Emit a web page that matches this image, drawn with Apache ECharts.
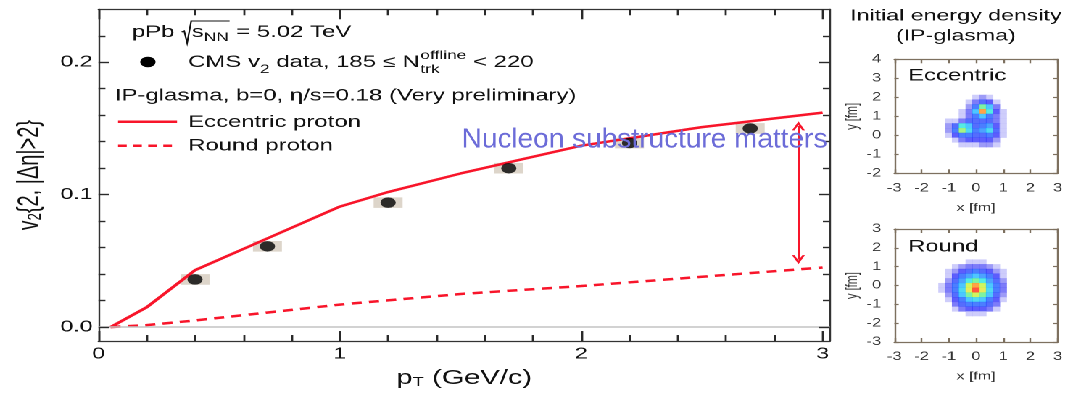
<!DOCTYPE html>
<html>
<head>
<meta charset="utf-8">
<script src="https://cdn.jsdelivr.net/npm/echarts@6/dist/echarts.min.js"></script>
<style>
  html, body { margin: 0; padding: 0; background: #fff; overflow: hidden; }
  /* the source figure is stretched horizontally, so draw narrow and stretch */
  #chart { width: 738px; height: 394px; transform: scaleX(1.45); transform-origin: 0 0; }
</style>
</head>
<body>
<div id="chart"></div>
<script>
// CMS v2 data points and systematic boxes
const cmsPt = [0.4, 0.7, 1.2, 1.7, 2.2, 2.7];
const cmsV2 = [0.036, 0.061, 0.094, 0.120, 0.139, 0.150];
const cmsSys = [0.004, 0.004, 0.004, 0.004, 0.004, 0.004];
const cmsPtHalfWidth = 0.06;

// IP-glasma curves
const eccPt = [0.05, 0.2, 0.4, 0.7, 1.0, 1.2, 1.5, 2.0, 2.5, 3.0];
const eccV2 = [0, 0.015, 0.043, 0.067, 0.091, 0.102, 0.116, 0.137, 0.151, 0.162];
const roundPt = [0.05, 0.2, 0.4, 0.6, 0.8, 1.0, 1.5, 2.0, 2.5, 3.0];
const roundV2 = [0, 0.0015, 0.005, 0.009, 0.013, 0.017, 0.025, 0.031, 0.038, 0.045];

// arrow between the two curves
const gapPt = 2.9;
const gapTop = 0.152;
const gapBottom = 0.051;

// tick positions
const xMajor = [0, 1, 2, 3];
const xMinor = [0.2, 0.4, 0.6, 0.8, 1.2, 1.4, 1.6, 1.8, 2.2, 2.4, 2.6, 2.8];
const yMajor = [0, 0.1, 0.2];
const yMinor = [0.02, 0.04, 0.06, 0.08, 0.12, 0.14, 0.16, 0.18, 0.22];
const heatXTicks = [-3, -2, -1, 0, 1, 2, 3];
const eccYTicks = [-2, -1, 0, 1, 2, 3, 4];
const roundYTicks = [-3, -2, -1, 0, 1, 2, 3];

// initial energy density, eccentric proton (fm grid, 0..10 scale)
const eccX = [-1.25, -1, -0.75, -0.5, -0.25, 0, 0.25, 0.5, 0.75, 1, 1.25];
const eccY = [2, 1.75, 1.5, 1.25, 1, 0.75, 0.5, 0.25, 0, -0.25, -0.5];
const eccDensity = [
  [0, 0, 0, 0, 0, 0.5, 1, 0.5, 0, 0, 0],
  [0, 0, 0, 0, 0.5, 1.5, 2.5, 2, 0.5, 0, 0],
  [0, 0, 0, 0, 1, 3, 6, 4, 1.5, 0, 0],
  [0, 0, 0, 0.5, 1.5, 4, 9, 5, 2, 0.5, 0],
  [0, 0, 0, 0.5, 1.5, 3, 4, 3, 1.5, 0.5, 0],
  [0, 0.5, 0.5, 1.5, 2.5, 2.5, 2.5, 2.5, 1.5, 0.5, 0],
  [0, 1, 2.5, 5, 4, 2.5, 3, 3.5, 2, 0.5, 0],
  [0, 1, 3, 6.5, 4.5, 3, 3.5, 4.5, 2.5, 0.5, 0],
  [0, 0.5, 2, 3, 3, 2.5, 2.5, 3, 2, 0.5, 0],
  [0, 0, 0.5, 1.5, 2, 2, 2, 2, 1, 0, 0],
  [0, 0, 0, 0.5, 0.5, 0.5, 1, 1, 0.5, 0, 0]
];

// initial energy density, round proton
const roundX = [-1.25, -1, -0.75, -0.5, -0.25, 0, 0.25, 0.5, 0.75, 1];
const roundY = [1.25, 1, 0.75, 0.5, 0.25, 0, -0.25, -0.5, -0.75, -1, -1.25, -1.5];
const roundDensity = [
  [0, 0, 0, 0, 0.5, 0.5, 0.5, 0, 0, 0],
  [0, 0, 0.5, 1, 1.5, 1.5, 1.5, 1, 0.5, 0],
  [0, 0.5, 1, 2, 2.5, 3, 2.5, 2, 1, 0.5],
  [0, 0.5, 2, 3, 3.5, 4, 3.5, 3, 2, 0.5],
  [0, 1, 2.5, 3.5, 5, 6, 5, 3.5, 2.5, 1],
  [0.5, 1.5, 3, 4, 7, 9, 7, 4, 3, 1.5],
  [0.5, 1.5, 3, 4.5, 7.5, 10, 7.5, 4.5, 3, 1.5],
  [0, 1, 2.5, 4, 6, 7, 6, 4, 2.5, 1],
  [0, 0.5, 2, 3, 4, 4.5, 4, 3, 2, 0.5],
  [0, 0, 1.5, 2.5, 3, 3, 3, 2.5, 1.5, 0],
  [0, 0, 0.5, 1.5, 2, 2, 2, 1.5, 0.5, 0],
  [0, 0, 0, 0, 0.5, 0.5, 0.5, 0, 0, 0]
];

const STRETCH = 1.45;
const FONT = '"Liberation Sans", Arial, Helvetica, sans-serif';
const RED = '#f8152a';
const measure = document.createElement('canvas').getContext('2d');

function textWidth(t, size) {
  measure.font = size + 'px ' + FONT;
  return measure.measureText(t).width;
}

// text element placed by its baseline
function txt(x, baseline, t, size, extra) {
  return Object.assign({
    type: 'text', x: x, y: baseline - 0.35 * size, silent: true, z: 50,
    style: {
      text: t, font: size + 'px ' + FONT, fill: '#111',
      textAlign: 'left', textVerticalAlign: 'middle', align: 'left', verticalAlign: 'middle'
    }
  }, extra || {});
}

function runs(x, baseline, parts, els) {
  let cx = x;
  parts.forEach(p => {
    els.push(txt(cx, baseline + (p.dy || 0), p.t, p.size));
    cx += textWidth(p.t, p.size);
  });
  return cx;
}

function gridCells(xs, ys, values) {
  const out = [];
  ys.forEach((y, i) => {
    xs.forEach((x, j) => {
      if (values[i][j] > 0) out.push([x, y, values[i][j]]);
    });
  });
  return out;
}

// legend block in the main frame
const graphics = [];
const BIG = 16.5, SMALL = 12;

let cx = runs(91, 38, [{ t: 'pPb ', size: BIG }], graphics);
const rx = cx + 0.3;
let sEnd = runs(rx + 7, 38, [{ t: 's', size: BIG }, { t: 'NN', size: SMALL, dy: 4 }], graphics);
graphics.push({
  type: 'polyline', silent: true, z: 50,
  shape: { points: [[rx, 32], [rx + 1.8, 31], [rx + 3.8, 43], [rx + 6.6, 21], [sEnd + 0.5, 21]] },
  style: { stroke: '#111', lineWidth: 1.1, fill: null }
});
runs(sEnd + 0.5, 38, [{ t: ' = 5.02 TeV', size: BIG }], graphics);

graphics.push({ type: 'circle', silent: true, z: 50, shape: { cx: 102, cy: 62, r: 5.3 }, style: { fill: '#000' } });
cx = runs(129.7, 68.3, [
  { t: 'CMS v', size: BIG }, { t: '2', size: SMALL, dy: 5.5 }, { t: ' data, 185 \u2264 N', size: BIG }
], graphics);
graphics.push(txt(cx + 0.5, 60, 'offline', SMALL));
graphics.push(txt(cx + 0.5, 74, 'trk', SMALL));
runs(cx + 0.5 + textWidth('offline', SMALL), 68.3, [{ t: ' < 220', size: BIG }], graphics);

graphics.push(txt(79.3, 101.7, 'IP-glasma, b=0, \u03b7/s=0.18 (Very preliminary)', BIG));
graphics.push({ type: 'line', silent: true, z: 50, shape: { x1: 81.4, y1: 121.7, x2: 122.1, y2: 121.7 }, style: { stroke: RED, lineWidth: 2.5 } });
graphics.push(txt(129.7, 128, 'Eccentric proton', BIG));
graphics.push({ type: 'line', silent: true, z: 50, shape: { x1: 81.4, y1: 145.7, x2: 118.6, y2: 145.7 }, style: { stroke: RED, lineWidth: 2.5, lineDash: [6, 4.4] } });
graphics.push(txt(129.7, 151.7, 'Round proton', BIG));

// annotation laid over the stretched figure, so it is not stretched
graphics.push(txt(318.4, 149.5, 'Nucleon substructure matters', 28, {
  scaleX: 1 / STRETCH, z: 100,
  style: {
    text: 'Nucleon substructure matters', font: '28px ' + FONT, fill: '#6c6cd8',
    textAlign: 'left', textVerticalAlign: 'middle', align: 'left', verticalAlign: 'middle'
  }
}));

// right panel titles
[['Initial energy density', 21.7], ['(IP-glasma)', 41.7]].forEach(([t, b]) => {
  graphics.push(txt(659.2, b, t, 16, {
    style: { text: t, font: '16px ' + FONT, fill: '#111', textAlign: 'center', textVerticalAlign: 'middle', align: 'center', verticalAlign: 'middle' }
  }));
});
graphics.push(txt(626.2, 81.7, 'Eccentric', BIG));
graphics.push(txt(626.2, 252.7, 'Round', BIG));

const chart = echarts.init(document.getElementById('chart'), null, { renderer: 'canvas', devicePixelRatio: 2 });

const labelStyle = { fontFamily: FONT, fontSize: 16, color: '#111' };
const heatLabel = { fontFamily: FONT, fontSize: 11.5, color: '#333' };
const tickColor = '#2a2a2a', heatTick = '#7d705f';

function frameAxis(lineColor, extra) {
  return Object.assign({
    type: 'value', axisLine: { show: true, onZero: false, lineStyle: { color: lineColor, width: 1.2 } },
    axisTick: { show: false }, splitLine: { show: false }, axisLabel: { show: false }
  }, extra);
}

const xMin = 0, xMax = 3.03, yMin = -0.0105, yMax = 0.24;

// grid boxes (chart is 738 x 394 before the stretch)
const mainBox = { left: 67.9, right: 165.7, top: 9.3, bottom: 52 };
const eccBox = { left: 616.8, right: 8.6, top: 59.3, height: 114 };
const roundBox = { left: 616.8, right: 8.6, top: 229, height: 113 };

const xAxes = [
  frameAxis('#333', {
    gridIndex: 0, min: xMin, max: xMax, position: 'bottom',
    axisLabel: { show: true, customValues: xMajor, margin: 5, ...labelStyle, formatter: v => String(v) },
    name: 'p{sub|T} (GeV/c)', nameLocation: 'middle', nameGap: 27,
    nameTextStyle: { fontFamily: FONT, fontSize: 20, color: '#111', rich: { sub: { fontFamily: FONT, fontSize: 13, verticalAlign: 'bottom', padding: [8, 0, 0, 0] } } }
  }),
  frameAxis('#333', { gridIndex: 0, min: xMin, max: xMax, position: 'top' })
];
const yAxes = [
  frameAxis('#333', {
    gridIndex: 0, min: yMin, max: yMax, position: 'left',
    axisLabel: { show: true, customValues: yMajor, margin: 4, ...labelStyle, formatter: v => v.toFixed(1) },
    name: 'v{sub|2}{2, |\u0394\u03b7|>2}', nameLocation: 'middle', nameRotate: 90, nameGap: 36,
    nameTextStyle: { fontFamily: FONT, fontSize: 20, color: '#111', rich: { sub: { fontFamily: FONT, fontSize: 13, verticalAlign: 'bottom', padding: [8, 0, 0, 0] } } }
  }),
  frameAxis('#333', { gridIndex: 0, min: yMin, max: yMax, position: 'right' })
];

// heatmap frames: axes 2,3 (eccentric) and 4,5 (round)
[[1, -2, 4], [2, -3, 3]].forEach(([g, lo, hi]) => {
  xAxes.push(frameAxis(heatTick, {
    gridIndex: g, min: -3, max: 3, interval: 1, position: 'bottom',
    axisLabel: { show: true, margin: 9, ...heatLabel },
    name: 'x [fm]', nameLocation: 'middle', nameGap: 29,
    nameTextStyle: { fontFamily: FONT, fontSize: 11, color: '#333' }
  }));
  xAxes.push(frameAxis(heatTick, { gridIndex: g, min: -3, max: 3, position: 'top' }));
  yAxes.push(frameAxis(heatTick, {
    gridIndex: g, min: lo, max: hi, interval: 1, position: 'left',
    axisLabel: { show: true, margin: 9, ...heatLabel },
    name: 'y [fm]', nameLocation: 'middle', nameRotate: 90, nameGap: 20,
    nameTextStyle: { fontFamily: FONT, fontSize: 11, color: '#333' }
  }));
  yAxes.push(frameAxis(heatTick, { gridIndex: g, min: lo, max: hi, position: 'right' }));
});

// inward tick segments as a lines series in data units (tick length given in px)
function tickLines(xi, yi, xExt, yExt, boxW, boxH, xTicks, yTicks, color, width) {
  const dx = (xExt[1] - xExt[0]) / boxW, dy = (yExt[1] - yExt[0]) / boxH;
  const data = [];
  xTicks.forEach(([v, len]) => {
    data.push({ coords: [[v, yExt[0]], [v, yExt[0] + len * dy]] });
    data.push({ coords: [[v, yExt[1]], [v, yExt[1] - len * dy]] });
  });
  yTicks.forEach(([v, len]) => {
    data.push({ coords: [[xExt[0], v], [xExt[0] + len * dx, v]] });
    data.push({ coords: [[xExt[1], v], [xExt[1] - len * dx, v]] });
  });
  return {
    type: 'lines', coordinateSystem: 'cartesian2d', xAxisIndex: xi, yAxisIndex: yi,
    silent: true, clip: false, z: 20, polyline: false, effect: { show: false },
    lineStyle: { color: color, width: width, opacity: 1, curveness: 0 },
    data: data
  };
}

const mainW = 738 - mainBox.left - mainBox.right, mainH = 394 - mainBox.top - mainBox.bottom;
const heatW = 738 - eccBox.left - eccBox.right;

const arrowHead = 'path://M0,10 L5,0 L10,10 L8,10 L5,4 L2,10 Z';

const option = {
  animation: false,
  backgroundColor: '#fff',
  grid: [mainBox, eccBox, roundBox],
  xAxis: xAxes,
  yAxis: yAxes,
  visualMap: {
    show: false, type: 'continuous', seriesIndex: [4, 5], dimension: 2, min: 0, max: 10,
    inRange: { color: ['#ffffff', '#8482f5', '#3434fb', '#1f5eff', '#22b8ff', '#2ae6dc', '#5ef08c', '#c4f23a', '#ffd92a', '#ff8c1a', '#ff2a14'] }
  },
  graphic: graphics,
  series: [
    {
      type: 'custom', xAxisIndex: 0, yAxisIndex: 0, silent: true, z: 1,
      data: cmsPt.map((p, i) => [p, cmsV2[i], cmsSys[i]]),
      renderItem: (params, api) => {
        const a = api.coord([api.value(0) - cmsPtHalfWidth, api.value(1) + api.value(2)]);
        const b = api.coord([api.value(0) + cmsPtHalfWidth, api.value(1) - api.value(2)]);
        return { type: 'rect', shape: { x: a[0], y: a[1], width: b[0] - a[0], height: b[1] - a[1] }, style: { fill: '#ddd5ca' } };
      }
    },
    {
      type: 'line', xAxisIndex: 0, yAxisIndex: 0, silent: true, z: 3,
      data: roundPt.map((p, i) => [p, roundV2[i]]),
      symbol: 'none', lineStyle: { color: RED, width: 2.5, type: [7, 5] },
      markLine: {
        silent: true, symbol: 'none', label: { show: false },
        lineStyle: { color: '#c4c4c4', width: 1.5, type: 'solid' },
        data: [{ yAxis: 0 }]
      }
    },
    {
      type: 'line', xAxisIndex: 0, yAxisIndex: 0, silent: true, z: 4,
      data: eccPt.map((p, i) => [p, eccV2[i]]),
      symbol: 'none', lineStyle: { color: RED, width: 2.5 },
      markLine: {
        silent: true, symbol: [arrowHead, arrowHead], symbolSize: [9, 9], label: { show: false },
        lineStyle: { color: RED, width: 2, type: 'solid' },
        data: [[{ coord: [gapPt, gapTop] }, { coord: [gapPt, gapBottom] }]]
      }
    },
    {
      type: 'scatter', xAxisIndex: 0, yAxisIndex: 0, silent: true, z: 5,
      data: cmsPt.map((p, i) => [p, cmsV2[i]]),
      symbol: 'circle', symbolSize: 10.5, itemStyle: { color: '#000' }
    },
    {
      type: 'scatter', xAxisIndex: 2, yAxisIndex: 2, silent: true,
      data: gridCells(eccX, eccY, eccDensity),
      symbol: 'rect', symbolSize: [5.1, 5.1]
    },
    {
      type: 'scatter', xAxisIndex: 4, yAxisIndex: 4, silent: true,
      data: gridCells(roundX, roundY, roundDensity),
      symbol: 'rect', symbolSize: [5.1, 5.1]
    },
    tickLines(0, 0, [xMin, xMax], [yMin, yMax], mainW, mainH,
      xMajor.map(v => [v, 10]).concat(xMinor.map(v => [v, 6])),
      yMajor.map(v => [v, 7.5]).concat(yMinor.map(v => [v, 4.8])), tickColor, 1.4),
    tickLines(2, 2, [-3, 3], [-2, 4], heatW, eccBox.height,
      heatXTicks.map(v => [v, 4]), eccYTicks.map(v => [v, 3]), heatTick, 1.2),
    tickLines(4, 4, [-3, 3], [-3, 3], heatW, roundBox.height,
      heatXTicks.map(v => [v, 4]), roundYTicks.map(v => [v, 3]), heatTick, 1.2)
  ]
};

chart.setOption(option);
</script>
</body>
</html>
